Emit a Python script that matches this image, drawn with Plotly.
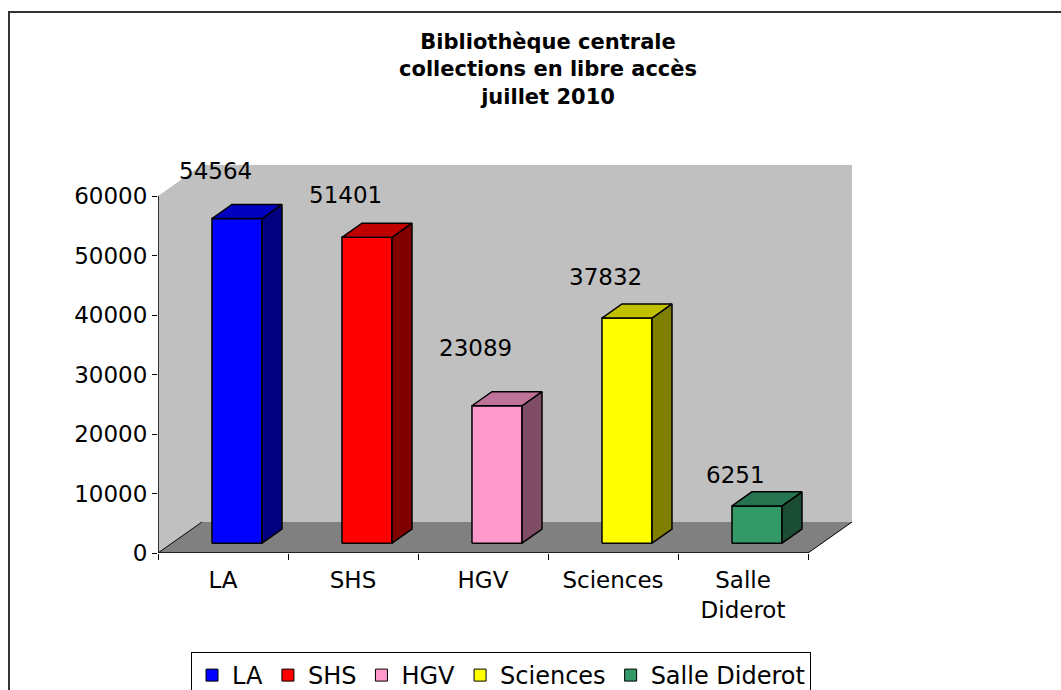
import plotly.graph_objects as go

# ---------------- data ----------------
categories = ["LA", "SHS", "HGV", "Sciences", "Salle Diderot"]
tick_labels = ["LA", "SHS", "HGV", "Sciences", "Salle<br>Diderot"]
values = [54564, 51401, 23089, 37832, 6251]
y_ticks = [0, 10000, 20000, 30000, 40000, 50000, 60000]
y_tick_labels = ["0", "10000", "20000", "30000", "40000", "50000", "60000"]

# ---------------- styles ----------------
front_colors = ["#0000FF", "#FF0000", "#FF99CC", "#FFFF00", "#339966"]
top_colors = ["#0000C0", "#C00000", "#C07399", "#C0C000", "#267350"]
side_colors = ["#000080", "#800000", "#804D66", "#808000", "#1A4D33"]
label_dy_px = [47, 42, 58, 41, 31]   # label offsets above bar tops (px)
FONT = "DejaVu Sans"

W, H = 1061, 690
ML, MR, MT, MB = 158, 209, 165, 137
YMAX = 60000
# depth projection (one unit of depth -> data offset)
DX = 44 / 130.0                 # category units
DY = 31 / ((H - MB - (MT + 31)) / YMAX)   # value units
HW = 0.1925                     # half bar width (category units)
DF, DB = 0.318, 0.772           # bar front/back depth

x_lo, x_hi = -0.5, len(categories) - 0.5
PW = W - ML - MR
PH = H - MT - MB


def P(c, v, d):
    return c + d * DX, v + d * DY


def poly(pts):
    xs, ys = zip(*[P(*p) for p in pts])
    return list(xs) + [xs[0]], list(ys) + [ys[0]]


def px_x(px):
    return (px - ML) / PW


def px_y(py):
    return (H - MB - py) / PH


fig = go.Figure()


def add_poly(pts, fill, line_color=None, width=0):
    xs, ys = poly(pts)
    fig.add_trace(go.Scatter(
        x=xs, y=ys, mode="lines", fill="toself", fillcolor=fill,
        line=dict(color=line_color or fill, width=width),
        hoverinfo="skip", showlegend=False))


def add_line(pts, color="black", width=1):
    xs, ys = zip(*[P(*p) for p in pts])
    fig.add_trace(go.Scatter(x=list(xs), y=list(ys), mode="lines",
                             line=dict(color=color, width=width),
                             hoverinfo="skip", showlegend=False))


# walls and floor
add_poly([(x_lo, 0, 1), (x_hi, 0, 1), (x_hi, YMAX, 1), (x_lo, YMAX, 1)], "#C0C0C0")
add_poly([(x_lo, 0, 0), (x_lo, 0, 1), (x_lo, YMAX, 1), (x_lo, YMAX, 0)], "#C0C0C0")
add_poly([(x_lo, 0, 0), (x_hi, 0, 0), (x_hi, 0, 1), (x_lo, 0, 1)], "#808080")
add_line([(x_lo, 0, 0), (x_lo, 0, 1)])
add_line([(x_hi, 0, 0), (x_hi, 0, 1)])
add_line([(x_lo, 0, 0), (x_hi, 0, 0)], width=1.5)
add_line([(x_lo, 0, 0), (x_lo, YMAX, 0)], width=1.5)

# bars
for i, v in enumerate(values):
    c = i
    add_poly([(c - HW, 0, DF), (c + HW, 0, DF), (c + HW, v, DF), (c - HW, v, DF)],
             front_colors[i], "black", 1.5)
    add_poly([(c + HW, 0, DF), (c + HW, 0, DB), (c + HW, v, DB), (c + HW, v, DF)],
             side_colors[i], "black", 1.5)
    add_poly([(c - HW, v, DF), (c + HW, v, DF), (c + HW, v, DB), (c - HW, v, DB)],
             top_colors[i], "black", 1.5)
    lx, ly = P(c, v, DF)
    fig.add_annotation(x=c, y=ly, text=str(v), showarrow=False,
                       xshift=-8, yshift=label_dy_px[i], yanchor="middle",
                       font=dict(family=FONT, size=23, color="black"))

# legend-only entries
for i, name in enumerate(categories):
    fig.add_trace(go.Scatter(
        x=[None], y=[None], mode="markers", name=name,
        marker=dict(symbol="square", size=12, color=front_colors[i],
                    line=dict(color="black", width=1))))

# invisible trace to activate xaxis2 (boundary ticks)
fig.add_trace(go.Scatter(x=[x_lo], y=[0], xaxis="x2", mode="markers",
                         marker=dict(opacity=0), hoverinfo="skip", showlegend=False))

# title
fig.add_annotation(xref="paper", yref="paper", x=px_x(548), y=px_y(69),
                   text="<b>Bibliothèque centrale<br>collections en libre accès<br>juillet 2010</b>",
                   showarrow=False, xanchor="center", yanchor="middle",
                   font=dict(family=FONT, size=21, color="black"))

# outer border
fig.add_shape(type="rect", xref="paper", yref="paper",
              x0=px_x(9), x1=px_x(W + 20), y0=px_y(H + 20), y1=px_y(12),
              line=dict(color="#333333", width=2), fillcolor="rgba(0,0,0,0)",
              layer="below")

fig.update_layout(
    width=W, height=H,
    margin=dict(l=ML, r=MR, t=MT, b=MB, autoexpand=False),
    paper_bgcolor="white", plot_bgcolor="white",
    font=dict(family=FONT, size=23, color="black"),
    xaxis=dict(range=[x_lo, x_hi + DX], tickvals=list(range(len(categories))),
               ticktext=tick_labels, ticks="", showline=False, showgrid=False,
               zeroline=False, ticklabelstandoff=11,
               tickfont=dict(family=FONT, size=23, color="black")),
    xaxis2=dict(range=[x_lo, x_hi + DX], overlaying="x", anchor="y", side="bottom",
                tickvals=[x_lo + k for k in range(len(categories) + 1)],
                ticks="outside", ticklen=6, tickcolor="black", tickwidth=1,
                showticklabels=False, showline=False, showgrid=False, zeroline=False),
    yaxis=dict(range=[0, YMAX + DY], tickvals=y_ticks, ticktext=y_tick_labels,
               ticks="outside", ticklen=5,
               tickcolor="black", tickwidth=1, showline=False, showgrid=False,
               zeroline=False, tickfont=dict(family=FONT, size=23, color="black")),
    legend=dict(orientation="h", x=px_x(191), y=px_y(652), xanchor="left",
                yanchor="top", bordercolor="black", borderwidth=1, bgcolor="white",
                font=dict(family=FONT, size=24, color="black"), itemclick=False),
    showlegend=True,
)

fig.write_html("out.html", config={"displayModeBar": False},
               post_script="document.body.style.margin='0';document.body.style.overflow='hidden';")
